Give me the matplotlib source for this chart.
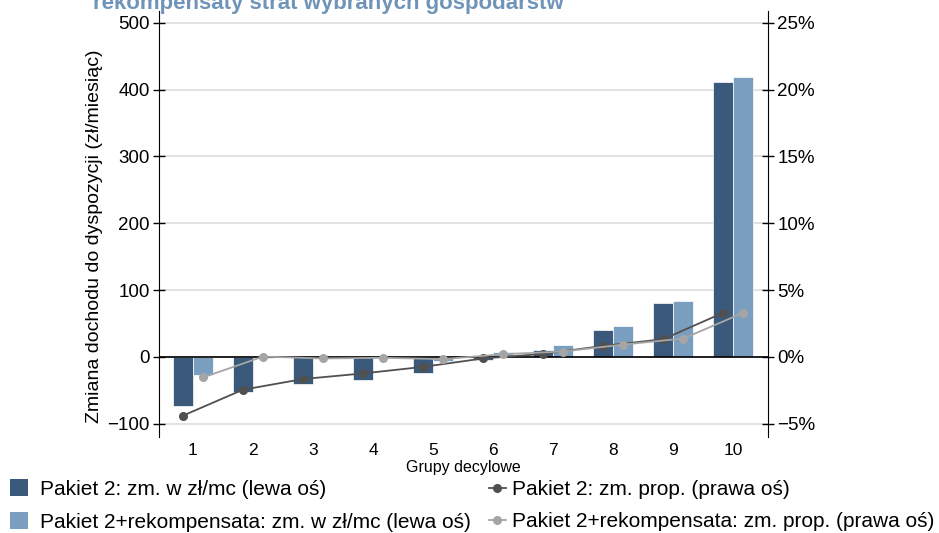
import matplotlib.pyplot as plt
from matplotlib.lines import Line2D
from matplotlib.patches import Patch
import numpy as np

# ── Data ──────────────────────────────────────────────────────────────────────
groups = ["1", "2", "3", "4", "5", "6", "7", "8", "9", "10"]
pakiet2_zl = [-74, -53, -41, -34, -24, -4, 10, 40, 80, 412]
pakiet2_rek_zl = [-27, -2, -2, -2, -6, 8, 18, 46, 84, 418]
pakiet2_pct = [-4.4, -2.46, -1.66, -1.24, -0.75, -0.12, 0.22, 0.82, 1.32, 3.3]
pakiet2_rek_pct = [-1.54, 0.02, -0.12, -0.07, -0.17, 0.2, 0.4, 0.92, 1.37, 3.3]

bar_labels = [
    "Pakiet 2: zm. w zł/mc (lewa oś)",
    "Pakiet 2+rekompensata: zm. w zł/mc (lewa oś)",
]
line_labels = [
    "Pakiet 2: zm. prop. (prawa oś)",
    "Pakiet 2+rekompensata: zm. prop. (prawa oś)",
]

c_dark = "#3b5a7b"
c_light = "#7a9ebf"
c_line_dark = "#505050"
c_line_light = "#a5a5a5"

plt.rcParams["font.family"] = ["Liberation Sans", "DejaVu Sans"]

fig = plt.figure(figsize=(9.39, 5.33), dpi=100)
ax = fig.add_axes([0.169, 0.18, 0.649, 0.80])
ax2 = ax.twinx()

x = np.arange(len(groups))
w = 0.335
ax.bar(x - w / 2, pakiet2_zl, w, color=c_dark, edgecolor="white", linewidth=0.5, zorder=2)
ax.bar(x + w / 2, pakiet2_rek_zl, w, color=c_light, edgecolor="white", linewidth=0.5, zorder=2)
ax.axhline(0, color="black", linewidth=1.2, zorder=3)

ax2.plot(x - w / 2, pakiet2_pct, color=c_line_dark, marker="o", markersize=5.5, linewidth=1.3, zorder=4)
ax2.plot(x + w / 2, pakiet2_rek_pct, color=c_line_light, marker="o", markersize=5.5, linewidth=1.3, zorder=4)

ax.set_xlim(-0.57, 9.58)
ax.set_ylim(-120, 518)
ax2.set_ylim(-6.0, 25.9)
ax.set_yticks([-100, 0, 100, 200, 300, 400, 500])
ax.set_yticklabels(["\u2212100", "0", "100", "200", "300", "400", "500"])
ax2.set_yticks([-5, 0, 5, 10, 15, 20, 25])
ax2.set_yticklabels(["\u22125%", "0%", "5%", "10%", "15%", "20%", "25%"])
ax.set_xticks(x)
ax.set_xticklabels(groups)

ax.grid(axis="y", color="#dddddd", linewidth=1.2, zorder=0)
ax.set_axisbelow(True)

for a in (ax, ax2):
    a.spines["top"].set_visible(False)
    a.spines["bottom"].set_visible(False)
    a.spines["left"].set_color("black")
    a.spines["right"].set_color("black")
ax.spines["right"].set_visible(False)
ax2.spines["left"].set_visible(False)

ax.tick_params(axis="y", direction="inout", length=9, width=1, labelsize=13.5, pad=2)
ax2.tick_params(axis="y", direction="inout", length=9, width=1, labelsize=13.5, pad=2)
ax.tick_params(axis="x", length=0, labelsize=12.5, pad=4)

ax.set_ylabel("Zmiana dochodu do dyspozycji (zł/miesiąc)", fontsize=14)
ax.yaxis.set_label_coords(-0.092, 0.47)
ax.set_xlabel("Grupy decylowe", fontsize=11.5, labelpad=2)

# cut-off title at the top
fig.text(93 / 939, 1 - 9 / 533, "rekompensaty strat wybranych gospodarstw", fontsize=16,
         fontweight="bold", color="#7094b8", va="baseline", ha="left")

bar_handles = [
    Patch(facecolor=c_dark, edgecolor="none"),
    Patch(facecolor=c_light, edgecolor="none"),
]
line_handles = [
    Line2D([], [], color=c_line_dark, marker="o", markersize=5.5, linewidth=1.3),
    Line2D([], [], color=c_line_light, marker="o", markersize=5.5, linewidth=1.3),
]
leg_y = 1 - 505.5 / 533
fig.legend(bar_handles, bar_labels, loc="center left", bbox_to_anchor=(10 / 939, leg_y),
           frameon=False, fontsize=15, handlelength=0.87, handleheight=0.87,
           handletextpad=0.58, labelspacing=0.62, borderpad=0, borderaxespad=0)
fig.legend(line_handles, line_labels, loc="center left", bbox_to_anchor=(489 / 939, leg_y),
           frameon=False, fontsize=15, handlelength=0.8, handletextpad=0.3,
           labelspacing=0.62, borderpad=0, borderaxespad=0)

fig.savefig("out.png", dpi=100)
